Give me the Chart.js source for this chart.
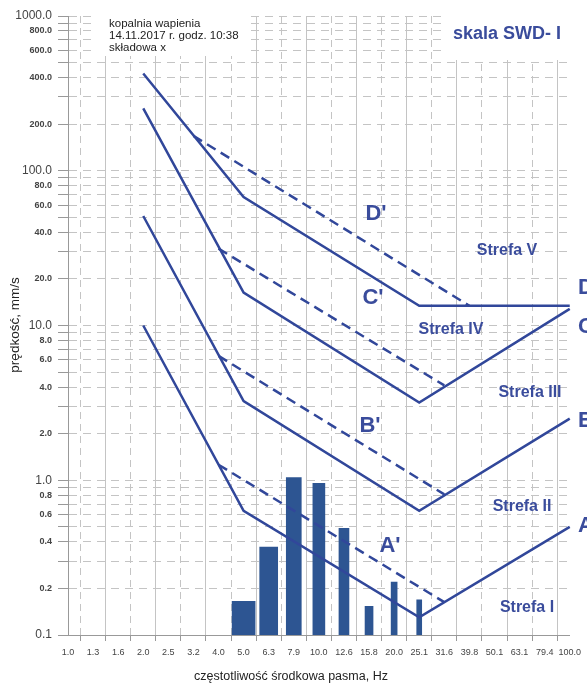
<!DOCTYPE html>
<html>
<head>
<meta charset="utf-8">
<script src="https://cdn.jsdelivr.net/npm/chart.js@4"></script>
<style>
  body { margin: 0; background: #fff; }
  canvas { display: block; }
</style>
</head>
<body>
<canvas id="swdChart" width="587" height="684"></canvas>
<script>
// x axis: 1/3 octave band centre frequencies
const bandLabels = ['1.0', '1.3', '1.6', '2.0', '2.5', '3.2', '4.0', '5.0', '6.3', '7.9', '10.0',
  '12.6', '15.8', '20.0', '25.1', '31.6', '39.8', '50.1', '63.1', '79.4', '100.0'];

// y axis ticks (log), all grid lines and the ones that get a label
const yTicks = [0.1, 0.2, 0.3, 0.4, 0.5, 0.6, 0.7, 0.8, 0.9,
  1, 2, 3, 4, 5, 6, 7, 8, 9,
  10, 20, 30, 40, 50, 60, 70, 80, 90,
  100, 200, 300, 400, 500, 600, 700, 800, 900, 1000];
const yLabeled = [0.1, 0.2, 0.4, 0.6, 0.8, 1, 2, 4, 6, 8, 10, 20, 40, 60, 80,
  100, 200, 400, 600, 800, 1000];
const yBigLabels = [0.1, 1, 10, 100, 1000];

// zone boundary lines [band, mm/s]
const lineA = [['2.0', 10], ['5.0', 0.634], ['25.1', 0.13], ['100.0', 0.5]];
const lineB = [['2.0', 51], ['5.0', 3.25], ['25.1', 0.634], ['100.0', 2.5]];
const lineC = [['2.0', 253], ['5.0', 16.3], ['25.1', 3.18], ['100.0', 12.8]];
const lineD = [['2.0', 425], ['5.0', 67.7], ['25.1', 13.4], ['100.0', 13.4]];

// dashed lines A'..D'
const lineA2 = [['4.0', 1.26], ['31.6', 0.163]];
const lineB2 = [['4.0', 6.36], ['31.6', 0.81]];
const lineC2 = [['4.0', 31.4], ['31.6', 4.1]];
const lineD2 = [['3.2', 168], ['39.8', 13.4]];

// measured spectrum
const barBands = ['5.0', '6.3', '7.9', '10.0', '12.6', '15.8', '20.0', '25.1'];
const barValues = [0.165, 0.37, 1.04, 0.956, 0.489, 0.153, 0.22, 0.169];
const barWidths = [23, 18, 15, 12, 10, 8, 6, 5];

const lineColor = '#31479a';
const barColor = '#2d5592';
const textColor = '#3a4c9c';
const font = "'Liberation Sans', Arial, sans-serif";

function toPoints(arr) {
  return arr.map(p => ({ x: p[0], y: p[1] }));
}

function lineSet(arr, dashed) {
  return {
    type: 'line',
    data: toPoints(arr),
    borderColor: lineColor,
    borderWidth: 2.5,
    borderDash: dashed ? [10, 6] : [],
    pointRadius: 0,
    fill: false,
    tension: 0,
    order: 0
  };
}

const datasets = [];
barBands.forEach((b, i) => {
  datasets.push({
    type: 'bar',
    data: [{ x: b, y: barValues[i] }],
    backgroundColor: barColor,
    barThickness: barWidths[i],
    grouped: false,
    order: 10
  });
});
[lineA, lineB, lineC, lineD].forEach(l => datasets.push(lineSet(l, false)));
[lineA2, lineB2, lineC2, lineD2].forEach(l => datasets.push(lineSet(l, true)));

// texts drawn on top of the chart
const annotations = {
  id: 'annotations',
  beforeDatasetsDraw(chart) {
    const ctx = chart.ctx;
    ctx.save();
    ctx.fillStyle = '#fff';
    ctx.fillRect(92, 0, 153, 56);
    ctx.fillRect(447, 0, 140, 60);
    ctx.restore();
  },
  afterDraw(chart) {
    const ctx = chart.ctx;
    ctx.save();
    // header
    ctx.fillStyle = '#222';
    ctx.font = '11.5px ' + font;
    ctx.textAlign = 'left';
    ctx.textBaseline = 'middle';
    ctx.fillText('kopalnia wapienia', 109, 24);
    ctx.fillText('14.11.2017 r. godz. 10:38', 109, 36);
    ctx.fillText('składowa x', 109, 48);

    ctx.fillStyle = textColor;
    ctx.font = 'bold 18px ' + font;
    ctx.fillText('skala SWD- I', 453, 34);

    // zones
    ctx.font = 'bold 16px ' + font;
    ctx.textAlign = 'center';
    ctx.fillText('Strefa V', 507, 251);
    ctx.fillText('Strefa IV', 451, 330);
    ctx.fillText('Strefa III', 530, 393);
    ctx.fillText('Strefa II', 522, 507);
    ctx.fillText('Strefa I', 527, 608);

    // line letters
    ctx.font = 'bold 22px ' + font;
    ctx.fillText("D'", 376, 214);
    ctx.fillText("C'", 373, 298);
    ctx.fillText("B'", 370, 426);
    ctx.fillText("A'", 390, 546);
    ctx.textAlign = 'left';
    ctx.fillText('D', 578, 288);
    ctx.fillText('C', 578, 327);
    ctx.fillText('B', 578, 421);
    ctx.fillText('A', 578, 526);

    // axis titles
    ctx.fillStyle = '#222';
    ctx.textAlign = 'center';
    ctx.font = '12.5px ' + font;
    ctx.fillText('częstotliwość środkowa pasma, Hz', 291, 677);
    ctx.translate(15, 325);
    ctx.rotate(-Math.PI / 2);
    ctx.font = '13.5px ' + font;
    ctx.fillText('prędkość, mm/s', 0, 0);
    ctx.restore();
  }
};

new Chart(document.getElementById('swdChart'), {
  type: 'bar',
  data: { labels: bandLabels, datasets: datasets },
  options: {
    responsive: false,
    animation: false,
    layout: { padding: { left: 0, top: 16, right: 16, bottom: 0 } },
    plugins: { legend: { display: false }, tooltip: { enabled: false } },
    scales: {
      x: {
        type: 'category',
        offset: false,
        afterFit: scale => { scale.height = 49; },
        grid: { color: '#c4c4c4', lineWidth: 1, tickLength: 6, tickColor: '#999' },
        border: {
          color: '#999',
          dash: ctx => (ctx.index % 2 === 1 ? [7, 5] : [])
        },
        ticks: {
          color: '#444',
          font: { family: font, size: 9 },
          padding: 6,
          maxRotation: 0,
          autoSkip: false
        }
      },
      y: {
        type: 'logarithmic',
        min: 0.1,
        max: 1000,
        afterFit: scale => { scale.width = 68; },
        afterBuildTicks: scale => { scale.ticks = yTicks.map(v => ({ value: v })); },
        grid: { color: '#c4c4c4', lineWidth: 1, tickLength: 10, tickColor: '#999' },
        border: { color: '#999', dash: [8, 6] },
        ticks: {
          color: '#444',
          padding: 6,
          autoSkip: false,
          callback: v => (yLabeled.some(l => Math.abs(l - v) < l * 1e-6) ? Number(v).toFixed(1) : ''),
          font: ctx => {
            const v = ctx.tick ? ctx.tick.value : 0;
            const big = yBigLabels.some(l => Math.abs(l - v) < l * 1e-6);
            return big ? { family: font, size: 12 } : { family: font, size: 9, weight: 'bold' };
          }
        }
      }
    }
  },
  plugins: [annotations]
});
</script>
</body>
</html>
